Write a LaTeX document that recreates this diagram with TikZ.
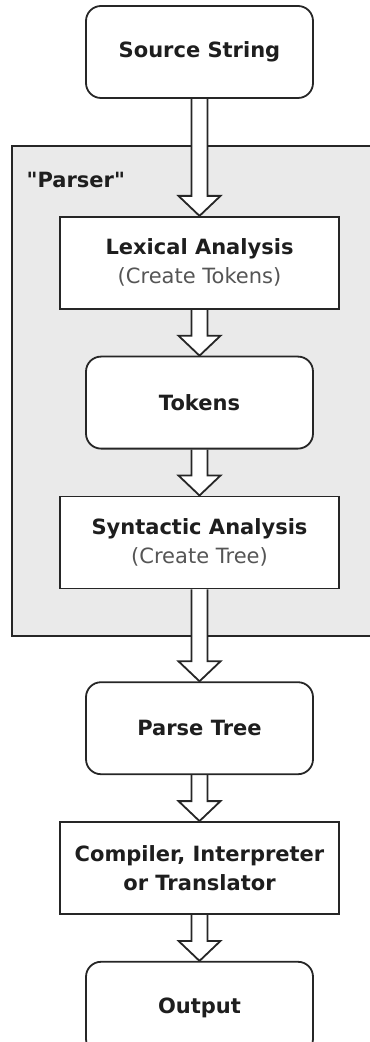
\documentclass[tikz,border=0pt]{standalone}
\usepackage{fontspec}
\setmainfont{DejaVu Sans}
\newfontfamily\labelfont{DejaVu Sans}[Ligatures=TeXOff]
\usepackage{tikz}
\usetikzlibrary{positioning,calc,fit,backgrounds}
\definecolor{groupGray}{HTML}{EAEAEA}
\definecolor{subGray}{HTML}{555555}
\definecolor{textDark}{HTML}{1E1E1E}
\tikzstyle{block} = [draw=black!85,line width=0.9pt,rectangle,fill=white,minimum width=139.5pt,minimum height=46pt,inner sep=0pt,align=center,text=textDark,font=\bfseries\fontsize{10.5}{14.5}\selectfont]
\tikzstyle{terminal} = [block,rounded corners=7.5pt,minimum width=113.5pt]
\tikzstyle{group} = [draw=black!85,line width=0.9pt,fill=groupGray,inner sep=0pt]
\tikzstyle{fatArrow} = [draw=black!85,line width=0.9pt,fill=white,line join=miter,
  to path={let \p1=(\tikztostart.south), \p2=(\tikztotarget.north) in
    (\x1-4pt,\y1) -- (\x1-4pt,\y2+10pt) -- (\x1-10.5pt,\y2+10pt) -- (\x2,\y2)
    -- (\x1+10.5pt,\y2+10pt) -- (\x1+4pt,\y2+10pt) -- (\x1+4pt,\y1)}]

\begin{document}
\begin{tikzpicture}
	\useasboundingbox (0,0) rectangle (184.5pt,-521pt);
	\node[terminal](source) at (99.75pt,-26pt){Source String};
	\node[block,below=58.5pt of source](lexical){Lexical Analysis\\{\mdseries\color{subGray}(Create Tokens)}};
	\node[terminal,below=23pt of lexical](tokens){Tokens};
	\node[block,below=23pt of tokens](syntactic){Syntactic Analysis\\{\mdseries\color{subGray}(Create Tree)}};
	\node[terminal,below=46pt of syntactic](parseTree){Parse Tree};
	\node[block,below=23pt of parseTree](compiler){Compiler, Interpreter\\or Translator};
	\node[terminal,below=23pt of compiler](output){Output};
	%group
	\begin{scope}[on background layer]
		\node[group,fit={($(lexical.north west)+(-23.5pt,35pt)$) ($(syntactic.south east)+(20.5pt,-23.5pt)$)}](parser){};
		%arrows
		\path[fatArrow](source) to (lexical);
		\path[fatArrow](lexical) to (tokens);
		\path[fatArrow](tokens) to (syntactic);
		\path[fatArrow](syntactic) to (parseTree);
		\path[fatArrow](parseTree) to (compiler);
		\path[fatArrow](compiler) to (output);
	\end{scope}
	\node[anchor=west,inner sep=0pt,text=textDark,font=\labelfont\bfseries\fontsize{10.5}{14.5}\selectfont](parserLabel) at ($(parser.north west)+(7.5pt,-17.5pt)$){"Parser"};
\end{tikzpicture}
\end{document}
